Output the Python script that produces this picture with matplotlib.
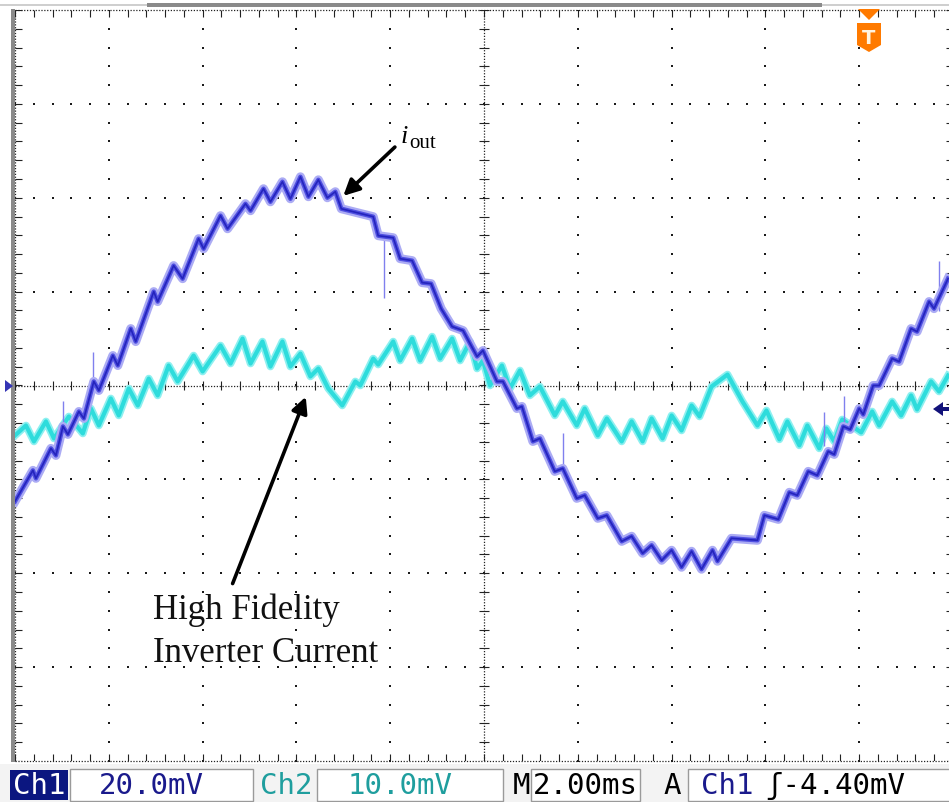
import numpy as np
import matplotlib.pyplot as plt
from matplotlib.patches import Rectangle, Polygon

# Ch1 trace (i_out), vertices, in divisions (x: 2 ms/div, y: 20 mV/div)
ch1_t = [0.0, 0.191, 0.223, 0.383, 0.436, 0.511, 0.564, 0.681, 0.734, 0.840, 0.894,
         1.043, 1.096, 1.234, 1.287, 1.479, 1.521, 1.691, 1.787, 1.957, 2.011,
         2.191, 2.266, 2.457, 2.511, 2.649, 2.723, 2.851, 2.936, 3.043, 3.128,
         3.234, 3.330, 3.415, 3.479, 3.819, 3.872, 4.032, 4.106, 4.234, 4.340,
         4.436, 4.543, 4.660, 4.777, 4.851, 4.926, 4.989, 5.138, 5.202, 5.351,
         5.404, 5.521, 5.596, 5.755, 5.840, 5.989, 6.074, 6.213, 6.309, 6.468,
         6.574, 6.691, 6.787, 6.894, 7.0, 7.106, 7.213, 7.319, 7.436, 7.489,
         7.638, 7.915, 7.989, 8.138, 8.255, 8.340, 8.457, 8.553, 8.670, 8.734,
         8.830, 8.904, 9.0, 9.043, 9.149, 9.213, 9.351, 9.426, 9.553, 9.617,
         9.745, 9.798, 9.947]
ch1_y = [-1.234, -0.904, -0.989, -0.670, -0.745, -0.436, -0.521, -0.277, -0.351, 0.043, -0.053,
         0.319, 0.213, 0.606, 0.468, 1.0, 0.894, 1.277, 1.138, 1.564, 1.457,
         1.809, 1.670, 1.936, 1.862, 2.096, 1.957, 2.170, 1.989, 2.223, 2.011,
         2.191, 2.0, 2.064, 1.883, 1.798, 1.596, 1.574, 1.351, 1.330, 1.096,
         1.085, 0.819, 0.628, 0.585, 0.447, 0.309, 0.372, 0.043, 0.043, -0.245,
         -0.223, -0.596, -0.564, -0.915, -0.883, -1.202, -1.170, -1.415, -1.383, -1.660,
         -1.606, -1.787, -1.702, -1.862, -1.755, -1.936, -1.766, -1.957, -1.755, -1.872,
         -1.628, -1.649, -1.383, -1.426, -1.138, -1.170, -0.915, -0.957, -0.702, -0.734,
         -0.436, -0.468, -0.245, -0.309, 0.0, 0.0, 0.287, 0.255, 0.606, 0.574,
         0.894, 0.819, 1.138]

# noise spikes on Ch1
spike_t = [0.51, 0.83, 3.93, 5.84, 8.63, 8.84, 9.85]
spike_lo = [-0.53, -0.09, 0.93, -0.91, -0.64, -0.46, 0.79]
spike_hi = [-0.17, 0.36, 1.56, -0.51, -0.28, -0.11, 1.33]

# Ch2 trace (high fidelity inverter current), 10 mV/div
ch2_t = [0.0, 0.117, 0.202, 0.330, 0.415, 0.574, 0.723, 0.809, 0.894, 1.021,
         1.106, 1.213, 1.309, 1.426, 1.521, 1.638, 1.734, 1.904, 2.0, 2.191,
         2.298, 2.426, 2.511, 2.638, 2.723, 2.851, 2.936, 3.043, 3.149, 3.234,
         3.340, 3.489, 3.628, 3.681, 3.819, 3.872, 4.032, 4.106, 4.234, 4.319,
         4.447, 4.532, 4.660, 4.745, 4.851, 4.926, 4.989, 5.064, 5.191, 5.277,
         5.383, 5.489, 5.596, 5.755, 5.840, 5.989, 6.074, 6.213, 6.309, 6.468,
         6.574, 6.691, 6.787, 6.904, 7.0, 7.106, 7.213, 7.298, 7.426, 7.596,
         7.755, 7.915, 8.011, 8.149, 8.234, 8.362, 8.447, 8.574, 8.649, 8.734,
         8.819, 9.021, 9.138, 9.213, 9.351, 9.447, 9.553, 9.617, 9.766, 9.851,
         9.947]
ch2_y = [-0.532, -0.426, -0.596, -0.383, -0.564, -0.330, -0.511, -0.245, -0.426, -0.138,
         -0.319, -0.032, -0.213, 0.074, -0.106, 0.213, 0.043, 0.319, 0.149, 0.426,
         0.234, 0.5, 0.234, 0.468, 0.202, 0.468, 0.202, 0.340, 0.096, 0.181,
         -0.032, -0.213, 0.043, 0.0, 0.287, 0.223, 0.468, 0.266, 0.5, 0.266,
         0.521, 0.287, 0.5, 0.266, 0.468, 0.181, 0.266, 0.0, 0.213, -0.032,
         0.160, -0.106, -0.011, -0.319, -0.170, -0.426, -0.245, -0.532, -0.351, -0.596,
         -0.383, -0.596, -0.351, -0.564, -0.319, -0.479, -0.213, -0.330, -0.011, 0.117,
         -0.170, -0.426, -0.266, -0.574, -0.383, -0.638, -0.426, -0.670, -0.457, -0.596,
         -0.362, -0.5, -0.277, -0.426, -0.170, -0.319, -0.106, -0.255, 0.043, -0.064,
         0.106]

# status bar readout
readout = [("Ch1", "20.0mV"), ("Ch2", "10.0mV")]
timebase = "2.00ms"
trigger = ("A", "Ch1", "\u0283-4.40mV")

fig = plt.figure(figsize=(9.49, 8.03), dpi=100)
ax = fig.add_axes([15 / 949, 41 / 803, 938 / 949, 751 / 803])
ax.set_xlim(0, 10)
ax.set_ylim(-4, 4)
ax.axis("off")

# graticule
minor_x = np.arange(0, 10.001, 0.2)
minor_y = np.arange(-4, 4.001, 0.2)
dot = dict(s=3, c="#1a1a1a", marker="s", linewidths=0, zorder=1)
for gx in [1, 2, 3, 4, 6, 7, 8, 9]:
    ax.scatter(np.full_like(minor_y, gx), minor_y, **dot)
for gy in [-3, -2, -1, 1, 2, 3]:
    ax.scatter(minor_x, np.full_like(minor_x, gy), **dot)
dense = dict(color="#222222", lw=0.9, ls=(0, (1, 1.3)), zorder=1)
ax.axhline(0, **dense)
ax.axvline(5, **dense)
ax.vlines(minor_x, -0.05, 0.05, color="#222222", lw=0.8, zorder=1)
ax.hlines(minor_y, 4.95, 5.05, color="#222222", lw=0.8, zorder=1)
for xe in [0, 10]:
    ax.axvline(xe, clip_on=False, **dense)
for ye in [-4, 4]:
    ax.axhline(ye, clip_on=False, **dense)
ax.hlines(minor_y, 0, 0.07, color="#222222", lw=0.8)
ax.hlines(minor_y, 9.93, 10, color="#222222", lw=0.8)
ax.vlines(minor_x, 3.93, 4, color="#222222", lw=0.8)
ax.vlines(minor_x, -4, -3.93, color="#222222", lw=0.8)

# traces
ax.plot(ch2_t, ch2_y, color="#8ef0f0", lw=5.5, solid_joinstyle="round", zorder=3)
ax.plot(ch2_t, ch2_y, color="#2edcdc", lw=3, solid_joinstyle="round", zorder=3)
ax.vlines(spike_t, spike_lo, spike_hi, color="#8080ee", lw=1.0, zorder=4)
ax.plot(ch1_t, ch1_y, color="#acacf4", lw=6.5, solid_joinstyle="round", zorder=4)
ax.plot(ch1_t, ch1_y, color="#5050e2", lw=3.2, solid_joinstyle="round", zorder=4)
ax.plot(ch1_t, ch1_y, color="#2424bc", lw=1.2, solid_joinstyle="round", zorder=4)

# annotations
serif = "Liberation Serif"
ax.text(4.106, 2.596, "i", fontsize=19, style="italic", family=serif, zorder=6)
ax.text(4.205, 2.543, "out", fontsize=15, family=serif, zorder=6)
arrow = dict(arrowstyle="-|>", lw=2.6, color="black", mutation_scale=24, shrinkA=0, shrinkB=0)
ax.annotate("", xy=(3.50, 2.02), xytext=(4.05, 2.54), arrowprops=arrow, zorder=6)
ax.annotate("", xy=(3.10, -0.12), xytext=(2.32, -2.11), arrowprops=arrow, zorder=6)
ax.text(1.47, -2.48, "High Fidelity", fontsize=25, family=serif, color="#111111")
ax.text(1.47, -2.93, "Inverter Current", fontsize=25, family=serif, color="#111111")

# screen decorations in pixel coordinates
deco = fig.add_axes([0, 0, 1, 1], zorder=5)
deco.set_xlim(0, 949)
deco.set_ylim(803, 0)
deco.axis("off")
deco.add_patch(Rectangle((0, 4.5), 949, 2, fc="#cfcfcf", ec="none"))
deco.add_patch(Rectangle((147, 4), 675, 4, fc="#8a8a8a", ec="none"))
deco.add_patch(Rectangle((11, 10), 4, 753, fc="#8a8a8a", ec="none"))
deco.add_patch(Polygon([(5, 381), (13, 387), (5, 393)], fc="#3535b5", ec="none"))
deco.add_patch(Polygon([(933, 410), (943, 403), (943, 417)], fc="#12127a", ec="none"))
deco.add_patch(Rectangle((943, 408), 6, 4, fc="#12127a", ec="none"))
orange = "#ff7a00"
deco.add_patch(Polygon([(858, 10), (880, 10), (869, 21)], fc=orange, ec="none"))
deco.add_patch(Polygon([(857, 24), (881, 24), (881, 46), (869, 53), (857, 46)], fc=orange, ec="none"))
deco.text(869, 38, "T", fontsize=14, weight="bold", color="#fff3e0", ha="center", va="center",
          family="DejaVu Sans")

# status bar
deco.add_patch(Rectangle((0, 765), 949, 38, fc="#f3f3f3", ec="none"))
deco.add_patch(Rectangle((10, 771), 58, 30, fc="#0b1680", ec="none"))
for bx, bw in [(70, 183), (317, 186), (531, 109), (688, 262)]:
    deco.add_patch(Rectangle((bx, 770), bw, 32, fc="white", ec="#9a9a9a", lw=1))
mono = dict(fontsize=21, family="DejaVu Sans Mono", va="center", ha="center")
navy = "#1a1a8c"
teal = "#1f9e9e"
deco.text(39, 786, readout[0][0], color="white", **mono)
deco.text(151, 786, readout[0][1], color=navy, **mono)
deco.text(286, 786, readout[1][0], color=teal, **mono)
deco.text(400, 786, readout[1][1], color=teal, **mono)
deco.text(522, 786, "M", color="black", **mono)
deco.text(585, 786, timebase, color="black", **mono)
deco.text(672, 786, trigger[0], color="black", **mono)
deco.text(727, 786, trigger[1], color=navy, **mono)
deco.text(765, 786, trigger[2], color="black", fontsize=21, family="DejaVu Sans Mono",
          va="center", ha="left")

fig.savefig("out.png", dpi=100)
